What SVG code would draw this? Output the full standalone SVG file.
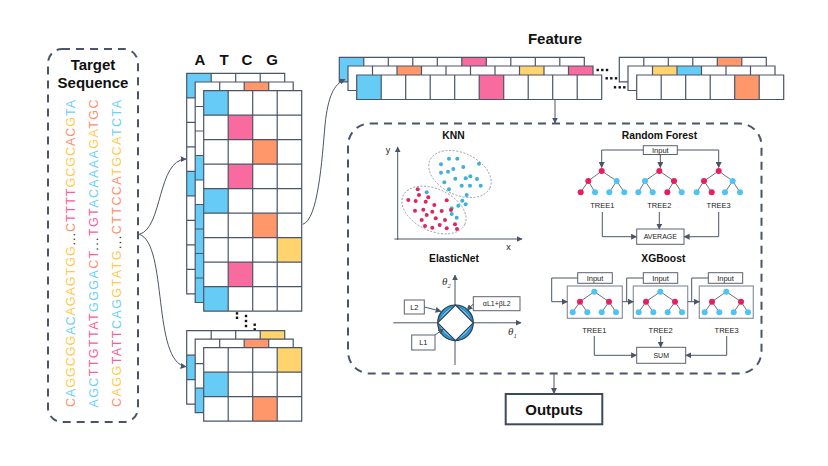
<svg xmlns="http://www.w3.org/2000/svg" xmlns:xlink="http://www.w3.org/1999/xlink" width="828" height="466" viewBox="0 0 828 466">
<style>
.dash{fill:none;stroke:#4a5568;stroke-width:2;stroke-dasharray:8 6}
.cb{fill:#66ccf5}.cp{fill:#f96a9e}.co{fill:#ff976a}.cy{fill:#ffd36e}
.bg{fill:#fff}
.gl{fill:none;stroke:#4a5568;stroke-width:1.2}
.conn{fill:none;stroke:#4a5568;stroke-width:1}
.thin{fill:none;stroke:#5a6270;stroke-width:0.9}
.h{font-family:"Liberation Sans",Arial,sans-serif;font-weight:bold;fill:#111;text-anchor:middle}
.s{font-family:"Liberation Sans",Arial,sans-serif;fill:#222;text-anchor:middle}
.seq{font-family:"Liberation Sans",Arial,sans-serif;font-size:12.5px}
.box{fill:#fff;stroke:#5a6270;stroke-width:1}
.tbox{fill:#fff;stroke:#8a939f;stroke-width:1.2}
.nr{fill:#e81e5e}.nb{fill:#4fc3f2}
.dot{fill:#111}
.kb{fill:#3fb0dc}.kr{fill:#e0245e}
.ell{fill:none;stroke:#8a8f96;stroke-width:0.8;stroke-dasharray:2 1.6}
.th{font-family:"Liberation Serif",serif;font-style:italic;fill:#333;font-size:11px}
</style>
<defs>
<marker id="arr" viewBox="0 0 10 10" refX="9" refY="5" markerWidth="6" markerHeight="6" markerUnits="userSpaceOnUse" orient="auto"><path d="M0,0L10,5L0,10z" fill="#4a5568"/></marker>
<path id="g49" class="gl" d="M0,0H98V220.5H0Z M24.5,0V220.5 M49,0V220.5 M73.5,0V220.5 M0,24.5H98 M0,49H98 M0,73.5H98 M0,98H98 M0,122.5H98 M0,147H98 M0,171.5H98 M0,196H98"/>
<path id="g43" class="gl" d="M0,0H98V73.5H0Z M24.5,0V73.5 M49,0V73.5 M73.5,0V73.5 M0,24.5H98 M0,49H98"/>
<path id="g10" class="gl" d="M0,0H245V24.5H0Z M24.5,0V24.5 M49,0V24.5 M73.5,0V24.5 M98,0V24.5 M122.5,0V24.5 M147,0V24.5 M171.5,0V24.5 M196,0V24.5 M220.5,0V24.5"/>
<path id="g6" class="gl" d="M0,0H147V24.5H0Z M24.5,0V24.5 M49,0V24.5 M73.5,0V24.5 M98,0V24.5 M122.5,0V24.5"/>
<g id="xtree">
<path class="thin" d="M594.3,291.7L580,301.7M594.3,291.7L609,301.7M580,301.7L572.7,312.3M580,301.7L587.3,312.3M609,301.7L601.7,312.3M609,301.7L616,312.3"/>
<circle class="nb" cx="594.3" cy="291.7" r="3"/>
<circle class="nr" cx="580" cy="301.7" r="3"/><circle class="nr" cx="609" cy="301.7" r="3"/>
<circle class="nb" cx="572.7" cy="312.3" r="3"/><circle class="nb" cx="587.3" cy="312.3" r="3"/><circle class="nb" cx="601.7" cy="312.3" r="3"/><circle class="nb" cx="616" cy="312.3" r="3"/>
</g>
</defs>
<rect width="828" height="466" fill="#fff"/>

<g id="target-sequence">
<rect class="dash" x="48" y="49" width="90" height="373" rx="14"/>
<text class="h" x="93" y="69.5" font-size="15">Target</text>
<text class="h" x="93" y="87.5" font-size="15">Sequence</text>
<text class="seq" transform="translate(74.7,407) rotate(-90)" textLength="307" lengthAdjust="spacing"><tspan fill="#ff8e6e">C</tspan><tspan fill="#6bd0f5">A</tspan><tspan fill="#ffc94a">GGCGG</tspan><tspan fill="#6bd0f5">AC</tspan><tspan fill="#ffc94a">AGAGTGG</tspan><tspan fill="#222">...</tspan><tspan fill="#ff8e6e">C</tspan><tspan fill="#ff5c94">TTTT</tspan><tspan fill="#ffc94a">GCGC</tspan><tspan fill="#ff8e6e">AC</tspan><tspan fill="#ffc94a">G</tspan><tspan fill="#6bd0f5">TA</tspan></text>
<text class="seq" transform="translate(97.7,407.5) rotate(-90)" textLength="308" lengthAdjust="spacing"><tspan fill="#6bd0f5">AGC</tspan><tspan fill="#ff5c94">TTGTTAT</tspan><tspan fill="#6bd0f5">GGGA</tspan><tspan fill="#ff8e6e">C</tspan><tspan fill="#ff5c94">T</tspan><tspan fill="#222">...</tspan><tspan fill="#ff5c94">TGT</tspan><tspan fill="#6bd0f5">ACAAAA</tspan><tspan fill="#ffc94a">GA</tspan><tspan fill="#ff8e6e">TGC</tspan></text>
<text class="seq" transform="translate(120.5,407) rotate(-90)" textLength="307" lengthAdjust="spacing"><tspan fill="#ff8e6e">C</tspan><tspan fill="#ffc94a">AGG</tspan><tspan fill="#ff5c94">TATT</tspan><tspan fill="#6bd0f5">CAG</tspan><tspan fill="#ffc94a">GTATG</tspan><tspan fill="#222">...</tspan><tspan fill="#ff8e6e">CTTCCA</tspan><tspan fill="#ffc94a">TGCA</tspan><tspan fill="#6bd0f5">TCTA</tspan></text>
</g>

<g id="onehot-stack1">
<text class="h" x="200" y="65" font-size="15">A</text>
<text class="h" x="224" y="65" font-size="15">T</text>
<text class="h" x="247" y="65" font-size="15">C</text>
<text class="h" x="272" y="65" font-size="15">G</text>
<g transform="translate(186.7,73.3)"><rect class="bg" width="98" height="220.5"/><rect class="cb" x="0" y="0" width="24.5" height="24.5"/><rect class="cb" x="0" y="98" width="24.5" height="24.5"/><use href="#g49"/></g>
<g transform="translate(195.2,82)"><rect class="bg" width="98" height="220.5"/><rect class="co" x="49" y="0" width="24.5" height="24.5"/><rect class="cb" x="0" y="73.5" width="24.5" height="24.5"/><rect class="cb" x="0" y="122.5" width="24.5" height="24.5"/><rect class="cb" x="0" y="147" width="24.5" height="24.5"/><rect class="cb" x="0" y="171.5" width="24.5" height="24.5"/><rect class="cb" x="0" y="196" width="24.5" height="24.5"/><use href="#g49"/></g>
<g transform="translate(203.7,90.7)"><rect class="bg" width="98" height="220.5"/><rect class="cb" x="0" y="0" width="24.5" height="24.5"/><rect class="cp" x="24.5" y="24.5" width="24.5" height="24.5"/><rect class="co" x="49" y="49" width="24.5" height="24.5"/><rect class="cp" x="24.5" y="73.5" width="24.5" height="24.5"/><rect class="cb" x="0" y="98" width="24.5" height="24.5"/><rect class="co" x="49" y="122.5" width="24.5" height="24.5"/><rect class="cy" x="73.5" y="147" width="24.5" height="24.5"/><rect class="cp" x="24.5" y="171.5" width="24.5" height="24.5"/><rect class="cb" x="0" y="196" width="24.5" height="24.5"/><use href="#g49"/></g>
</g>

<g id="stack-dots">
<rect class="dot" x="235.8" y="312.2" width="2.4" height="2.4"/><rect class="dot" x="235.8" y="316.6" width="2.4" height="2.4"/>
<rect class="dot" x="244.8" y="314.8" width="2.4" height="2.4"/><rect class="dot" x="244.8" y="319.8" width="2.4" height="2.4"/><rect class="dot" x="244.8" y="324.8" width="2.4" height="2.4"/>
<rect class="dot" x="253.5" y="323.5" width="2.4" height="2.4"/><rect class="dot" x="253.5" y="328.2" width="2.4" height="2.4"/><rect class="dot" x="253.5" y="333.1" width="2.4" height="2.4"/>
</g>

<g id="onehot-stack2">
<g transform="translate(186.7,330.7)"><rect class="bg" width="98" height="73.5"/><rect class="cy" x="73.5" y="0" width="24.5" height="24.5"/><rect class="cb" x="0" y="24.5" width="24.5" height="24.5"/><use href="#g43"/></g>
<g transform="translate(195.2,339.2)"><rect class="bg" width="98" height="73.5"/><rect class="co" x="49" y="0" width="24.5" height="24.5"/><rect class="cb" x="0" y="49" width="24.5" height="24.5"/><use href="#g43"/></g>
<g transform="translate(203.7,347.7)"><rect class="bg" width="98" height="73.5"/><rect class="cy" x="73.5" y="0" width="24.5" height="24.5"/><rect class="cb" x="0" y="24.5" width="24.5" height="24.5"/><rect class="co" x="49" y="49" width="24.5" height="24.5"/><use href="#g43"/></g>
</g>

<g id="feature">
<text class="h" x="555" y="44" font-size="15">Feature</text>
<g transform="translate(339.3,57.3)"><rect class="bg" width="245" height="24.5"/><rect class="cb" x="0" y="0" width="24.5" height="24.5"/><rect class="cp" x="122.5" y="0" width="24.5" height="24.5"/><use href="#g10"/></g>
<g transform="translate(348,66)"><rect class="bg" width="245" height="24.5"/><rect class="co" x="49" y="0" width="24.5" height="24.5"/><rect class="cy" x="171.5" y="0" width="24.5" height="24.5"/><rect class="cp" x="220.5" y="0" width="24.5" height="24.5"/><use href="#g10"/></g>
<g transform="translate(356.7,75)"><rect class="bg" width="245" height="24.5"/><rect class="cb" x="0" y="0" width="24.5" height="24.5"/><rect class="cp" x="122.5" y="0" width="24.5" height="24.5"/><use href="#g10"/></g>
<g transform="translate(619.3,57.3)"><rect class="bg" width="147" height="24.5"/><rect class="co" x="98" y="0" width="24.5" height="24.5"/><use href="#g6"/></g>
<g transform="translate(628,66)"><rect class="bg" width="147" height="24.5"/><rect class="cy" x="24.5" y="0" width="24.5" height="24.5"/><rect class="cb" x="49" y="0" width="24.5" height="24.5"/><use href="#g6"/></g>
<g transform="translate(636.7,75)"><rect class="bg" width="147" height="24.5"/><rect class="co" x="98" y="0" width="24.5" height="24.5"/><use href="#g6"/></g>
<rect class="dot" x="596.5" y="68.8" width="2.4" height="2.4"/><rect class="dot" x="601.1" y="68.8" width="2.4" height="2.4"/><rect class="dot" x="605.8" y="68.8" width="2.4" height="2.4"/>
<rect class="dot" x="605.5" y="77.1" width="2.4" height="2.4"/><rect class="dot" x="610.1" y="77.1" width="2.4" height="2.4"/><rect class="dot" x="614.8" y="77.1" width="2.4" height="2.4"/>
<rect class="dot" x="613.8" y="86.1" width="2.4" height="2.4"/><rect class="dot" x="618.5" y="86.1" width="2.4" height="2.4"/><rect class="dot" x="623.1" y="86.1" width="2.4" height="2.4"/>
</g>

<g id="models-box">
<rect class="dash" x="348" y="123.5" width="413.5" height="250" rx="22"/>
</g>

<g id="knn">
<text class="h" x="453.5" y="138.5" font-size="10.3">KNN</text>
<path class="conn" d="M397.7,240V147" marker-end="url(#arr)"/>
<path class="conn" d="M394.3,239H522" marker-end="url(#arr)"/>
<text class="s" x="388" y="153" font-size="9">y</text>
<text class="s" x="508.5" y="250" font-size="9">x</text>
<ellipse class="ell" cx="460" cy="174" rx="33" ry="21" transform="rotate(25 460 174)"/>
<ellipse class="ell" cx="434" cy="210" rx="34" ry="21" transform="rotate(25 434 210)"/>
<g class="kb">
<circle cx="441" cy="164.3" r="2"/><circle cx="449" cy="158.7" r="2"/><circle cx="457.3" cy="158.7" r="2"/><circle cx="479" cy="163.7" r="2"/><circle cx="441" cy="172.7" r="2"/><circle cx="448" cy="171.7" r="2"/><circle cx="453.3" cy="169" r="2"/><circle cx="463.3" cy="167" r="2"/><circle cx="455.3" cy="178.7" r="2"/><circle cx="465.7" cy="178.3" r="2"/><circle cx="470.3" cy="176.3" r="2"/><circle cx="477" cy="179" r="2"/><circle cx="444.3" cy="182.3" r="2"/><circle cx="461.7" cy="185.7" r="2"/><circle cx="470" cy="185.7" r="2"/><circle cx="480.7" cy="185.7" r="2"/><circle cx="449" cy="189.3" r="2"/><circle cx="466.7" cy="195" r="2"/><circle cx="426.7" cy="192.3" r="2"/><circle cx="462.3" cy="200.7" r="2"/><circle cx="465.7" cy="204.3" r="2"/><circle cx="458.3" cy="205.7" r="2"/><circle cx="451.7" cy="208.3" r="2"/><circle cx="451.7" cy="214" r="2"/><circle cx="456.7" cy="217.7" r="2"/>
</g>
<g class="kr">
<circle cx="417.7" cy="189.3" r="2"/><circle cx="408.3" cy="200" r="2"/><circle cx="419" cy="195" r="2"/><circle cx="428.3" cy="197.3" r="2"/><circle cx="415.7" cy="201" r="2"/><circle cx="425.7" cy="201.7" r="2"/><circle cx="434.3" cy="205" r="2"/><circle cx="415" cy="210.7" r="2"/><circle cx="423.3" cy="209.7" r="2"/><circle cx="432.3" cy="211.7" r="2"/><circle cx="441.7" cy="211" r="2"/><circle cx="446.7" cy="200.3" r="2"/><circle cx="451" cy="210" r="2"/><circle cx="426.7" cy="215" r="2"/><circle cx="435.7" cy="218.3" r="2"/><circle cx="445" cy="220" r="2"/><circle cx="421.7" cy="220" r="2"/><circle cx="425" cy="226" r="2"/><circle cx="432.3" cy="227.7" r="2"/><circle cx="439.7" cy="225" r="2"/><circle cx="446.7" cy="228.3" r="2"/><circle cx="455" cy="224.3" r="2"/><circle cx="457" cy="229" r="2"/>
</g>
</g>

<g id="random-forest">
<text class="h" x="659.5" y="139" font-size="10.3">Random Forest</text>
<rect class="box" x="643.3" y="145.7" width="34" height="8.8"/>
<text class="s" x="660.3" y="152.8" font-size="7.5">Input</text>
<path class="thin" d="M601.7,171L588.3,181M601.7,171L616.7,181M588.3,181L580.7,192.3M588.3,181L595,192.3M616.7,181L609.3,192.3M616.7,181L624.3,192.3"/>
<path class="thin" d="M659.3,171L645,181M659.3,171L674,181M645,181L638.3,192.3M645,181L652.7,192.3M674,181L667.3,192.3M674,181L681.7,192.3"/>
<path class="thin" d="M718.7,171L704,181M718.7,171L732.7,181M704,181L696.7,192.3M704,181L711.7,192.3M732.7,181L725,192.3M732.7,181L740,192.3"/>
<circle class="nr" cx="601.7" cy="171" r="3"/><circle class="nr" cx="588.3" cy="181" r="3"/><circle class="nb" cx="616.7" cy="181" r="3"/><circle class="nr" cx="580.7" cy="192.3" r="3"/><circle class="nb" cx="595" cy="192.3" r="3"/><circle class="nb" cx="609.3" cy="192.3" r="3"/><circle class="nb" cx="624.3" cy="192.3" r="3"/>
<circle class="nr" cx="659.3" cy="171" r="3"/><circle class="nb" cx="645" cy="181" r="3"/><circle class="nr" cx="674" cy="181" r="3"/><circle class="nb" cx="638.3" cy="192.3" r="3"/><circle class="nb" cx="652.7" cy="192.3" r="3"/><circle class="nr" cx="667.3" cy="192.3" r="3"/><circle class="nb" cx="681.7" cy="192.3" r="3"/>
<circle class="nr" cx="718.7" cy="171" r="3"/><circle class="nr" cx="704" cy="181" r="3"/><circle class="nb" cx="732.7" cy="181" r="3"/><circle class="nb" cx="696.7" cy="192.3" r="3"/><circle class="nr" cx="711.7" cy="192.3" r="3"/><circle class="nb" cx="725" cy="192.3" r="3"/><circle class="nb" cx="740" cy="192.3" r="3"/>
<text class="s" x="602.3" y="208" font-size="7.5">TREE1</text>
<text class="s" x="659.3" y="208" font-size="7.5">TREE2</text>
<text class="s" x="718.7" y="208" font-size="7.5">TREE3</text>
<rect class="box" x="636.7" y="229" width="47.3" height="15.3"/>
<text class="s" x="660.3" y="239.3" font-size="7">AVERAGE</text>
</g>

<g id="elasticnet">
<text class="h" x="454" y="261.7" font-size="10.3">ElasticNet</text>
<path class="conn" d="M455,365V275" marker-end="url(#arr)"/>
<path class="conn" d="M393.3,322.8H521" marker-end="url(#arr)"/>
<text class="th" x="442" y="285">θ<tspan font-size="6.5" dy="2.5">2</tspan></text>
<text class="th" x="508" y="335">θ<tspan font-size="6.5" dy="2.5">1</tspan></text>
<circle cx="455.5" cy="322.8" r="17.8" fill="#2f9bd6" stroke="#2c3e50" stroke-width="1.2"/>
<path d="M455.5,305Q468.1,310.2 473.3,322.8Q468.1,335.4 455.5,340.6Q442.9,335.4 437.7,322.8Q442.9,310.2 455.5,305Z" fill="#6cc6ef" stroke="#1f6fa0" stroke-width="0.8"/>
<path d="M455.5,305L473.3,322.8L455.5,340.6L437.7,322.8Z" fill="#fff" stroke="#2c3e50" stroke-width="1.2"/>
<rect class="box" x="404.3" y="300" width="20" height="14"/>
<text class="s" x="414.3" y="309.8" font-size="7.5">L2</text>
<rect class="box" x="411.7" y="335" width="23.3" height="15"/>
<text class="s" x="423.3" y="345.3" font-size="7.5">L1</text>
<rect class="box" x="473.3" y="296.7" width="46.7" height="14"/>
<text class="s" x="496.7" y="306.3" font-size="7">αL1+βL2</text>
<path class="conn" d="M424.3,307L441,311.3" marker-end="url(#arr)"/>
<path class="conn" d="M435,335L443.5,329" marker-end="url(#arr)"/>
<path class="conn" d="M473.3,304L467,310.3" marker-end="url(#arr)"/>
</g>

<g id="xgboost">
<text class="h" x="663.3" y="261.7" font-size="10.3">XGBoost</text>
<rect class="box" x="577.7" y="272.7" width="34.6" height="10.6"/>
<text class="s" x="595" y="280.7" font-size="7.5">Input</text>
<rect class="box" x="643.3" y="272.7" width="34.4" height="10.6"/>
<text class="s" x="660.5" y="280.7" font-size="7.5">Input</text>
<rect class="box" x="708.3" y="272.7" width="34.4" height="10.6"/>
<text class="s" x="725.5" y="280.7" font-size="7.5">Input</text>
<rect class="tbox" x="567.3" y="286" width="55" height="32.3"/>
<rect class="tbox" x="633.3" y="286" width="54.4" height="32.3"/>
<rect class="tbox" x="699.3" y="286" width="54" height="32.3"/>
<use href="#xtree"/>
<use href="#xtree" transform="translate(66,0)"/>
<use href="#xtree" transform="translate(132,0)"/>
<text class="s" x="594.3" y="332.5" font-size="7.5">TREE1</text>
<text class="s" x="660.7" y="332.5" font-size="7.5">TREE2</text>
<text class="s" x="726.7" y="332.5" font-size="7.5">TREE3</text>
<rect class="box" x="636.7" y="347.3" width="49" height="16"/>
<text class="s" x="661.2" y="357.8" font-size="7">SUM</text>
</g>

<g id="outputs">
<rect x="505.7" y="394" width="96.6" height="30.3" fill="#fff" stroke="#3d4a5c" stroke-width="2"/>
<text class="h" x="554" y="414.5" font-size="15">Outputs</text>
</g>

<g id="connectors">
<path class="conn" d="M139.3,234.3C163,228 157,160 186,159" marker-end="url(#arr)"/>
<path class="conn" d="M139.3,234.3C168,244 152,362 186,366.7" marker-end="url(#arr)"/>
<path class="conn" d="M302.7,224.3C318,220 322,160 325,125C328,96 334,84 345,79.5" marker-end="url(#arr)"/>
<path class="conn" d="M555,99.5V123" marker-end="url(#arr)"/>
<path class="conn" d="M554,373.5V393.5" marker-end="url(#arr)"/>
<path class="conn" d="M643.3,150H601.7V167.5" marker-end="url(#arr)"/>
<path class="conn" d="M660.3,154.5V167.5" marker-end="url(#arr)"/>
<path class="conn" d="M677.3,150H718.7V167.5" marker-end="url(#arr)"/>
<path class="conn" d="M602.3,212V236.7H636.5" marker-end="url(#arr)"/>
<path class="conn" d="M659.3,212V229" marker-end="url(#arr)"/>
<path class="conn" d="M718.7,212V236.7H684.2" marker-end="url(#arr)"/>
<path class="conn" d="M577.7,278H551.7V301.7H567.3" marker-end="url(#arr)"/>
<path class="conn" d="M643.3,278H626.7V301.7"/>
<path class="conn" d="M622.3,301.7H633.3" marker-end="url(#arr)"/>
<path class="conn" d="M708.3,278H691.7V301.7"/>
<path class="conn" d="M687.7,301.7H699.3" marker-end="url(#arr)"/>
<path class="conn" d="M594.3,336V355.3H636.5" marker-end="url(#arr)"/>
<path class="conn" d="M660.7,336V347.2" marker-end="url(#arr)"/>
<path class="conn" d="M726.7,336V355.3H685.9" marker-end="url(#arr)"/>
</g>
</svg>
